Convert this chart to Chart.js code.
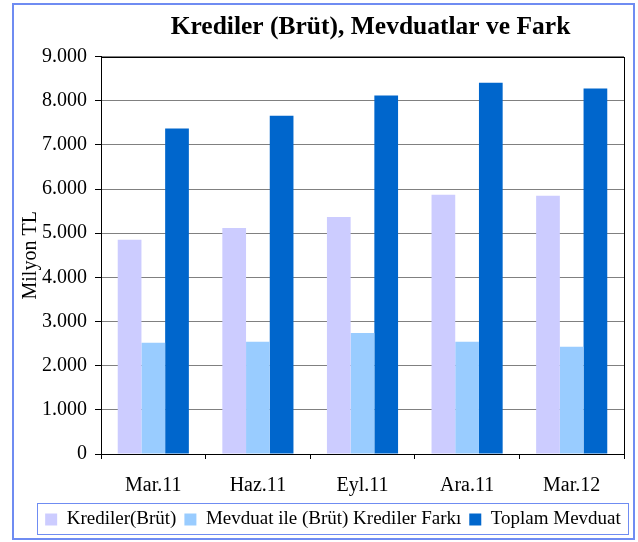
<!DOCTYPE html>
<html>
<head>
<meta charset="utf-8">
<script src="https://cdn.jsdelivr.net/npm/chart.js@4/dist/chart.umd.min.js"></script>
<style>
body { margin: 0; background: #fff; }
</style>
</head>
<body>
<canvas id="chart" width="638" height="542"></canvas>
<script>
// data (milyon TL)
const categories = ['Mar.11', 'Haz.11', 'Eyl.11', 'Ara.11', 'Mar.12'];
const krediler = [4850, 5120, 5370, 5870, 5850];
const fark = [2520, 2540, 2740, 2540, 2430];
const toplamMevduat = [7370, 7660, 8120, 8410, 8280];
const seriesNames = ['Krediler(Brüt)', 'Mevduat ile (Brüt) Krediler Farkı', 'Toplam Mevduat'];
const seriesColors = ['#CCCCFF', '#99CCFF', '#0066CC'];

const serif = "'Liberation Serif', 'Times New Roman', serif";
const frameBlue = '#6f8cf2';

// dotted thousands like 9.000
function fmt(v) {
    return String(v).replace(/\B(?=(\d{3})+(?!\d))/g, '.');
}

// white background, plot frame, outer border and legend box
const framePlugin = {
    id: 'frame',
    afterLayout(chart) {
        // nudge title and legend a bit to the right like the original
        chart.titleBlock.left += 8;
        chart.titleBlock.right += 8;
        chart.legend.left += 13;
        chart.legend.right += 13;
    },
    beforeDraw(chart) {
        const ctx = chart.ctx;
        ctx.save();
        ctx.fillStyle = '#fff';
        ctx.fillRect(0, 0, chart.width, chart.height);
        ctx.restore();
    },
    afterDatasetsDraw(chart) {
        const { ctx, chartArea: a } = chart;
        ctx.save();
        ctx.strokeStyle = '#000';
        ctx.lineWidth = 1;
        ctx.strokeRect(Math.round(a.left) + 0.5, Math.round(a.top) + 0.5,
            Math.round(a.right - a.left), Math.round(a.bottom - a.top));
        ctx.restore();
    },
    afterDraw(chart) {
        const ctx = chart.ctx;
        ctx.save();
        ctx.strokeStyle = frameBlue;
        ctx.lineWidth = 2;
        ctx.strokeRect(13, 4, 621, 535);
        const boxes = chart.legend.legendHitBoxes;
        if (boxes && boxes.length) {
            const last = boxes[boxes.length - 1];
            const l = boxes[0].left - 8;
            const r = last.left + last.width + 7;
            ctx.lineWidth = 1;
            ctx.strokeRect(Math.round(l) + 0.5, 503.5, Math.round(r - l), 31);
        }
        ctx.restore();
    }
};

const ctx = document.getElementById('chart').getContext('2d');
new Chart(ctx, {
    type: 'bar',
    data: {
        labels: categories,
        datasets: [krediler, fark, toplamMevduat].map((d, i) => ({
            label: seriesNames[i],
            data: d,
            backgroundColor: seriesColors[i],
            borderWidth: 0,
            categoryPercentage: 0.68,
            barPercentage: 1
        }))
    },
    options: {
        responsive: false,
        animation: false,
        layout: { padding: { top: 12, left: 16, right: 14, bottom: 3 } },
        plugins: {
            title: {
                display: true,
                text: 'Krediler (Brüt), Mevduatlar ve Fark',
                fullSize: false,
                color: '#000',
                font: { family: serif, size: 25.5, weight: 'bold', lineHeight: 1.2 },
                padding: { top: 0, bottom: 14 }
            },
            legend: {
                position: 'bottom',
                labels: {
                    color: '#000',
                    font: { family: serif, size: 19 },
                    boxWidth: 12,
                    boxHeight: 12,
                    padding: 8
                }
            },
            tooltip: { enabled: false }
        },
        scales: {
            x: {
                offset: true,
                afterFit(scale) { scale.height = 48; },
                grid: {
                    offset: true,
                    drawOnChartArea: false,
                    tickColor: '#000',
                    tickLength: 5
                },
                border: { color: '#000' },
                ticks: {
                    color: '#000',
                    font: { family: serif, size: 20 },
                    padding: 15
                }
            },
            y: {
                min: 0,
                max: 9000,
                afterFit(scale) { scale.width = 85; },
                grid: {
                    color: '#808080',
                    tickColor: '#000',
                    tickLength: 6
                },
                border: { color: '#000' },
                ticks: {
                    stepSize: 1000,
                    color: '#000',
                    font: { family: serif, size: 20 },
                    padding: 8,
                    callback: v => fmt(v)
                },
                title: {
                    display: true,
                    text: 'Milyon TL',
                    color: '#000',
                    font: { family: serif, size: 20 },
                    padding: 3
                }
            }
        }
    },
    plugins: [framePlugin]
});
</script>
</body>
</html>
